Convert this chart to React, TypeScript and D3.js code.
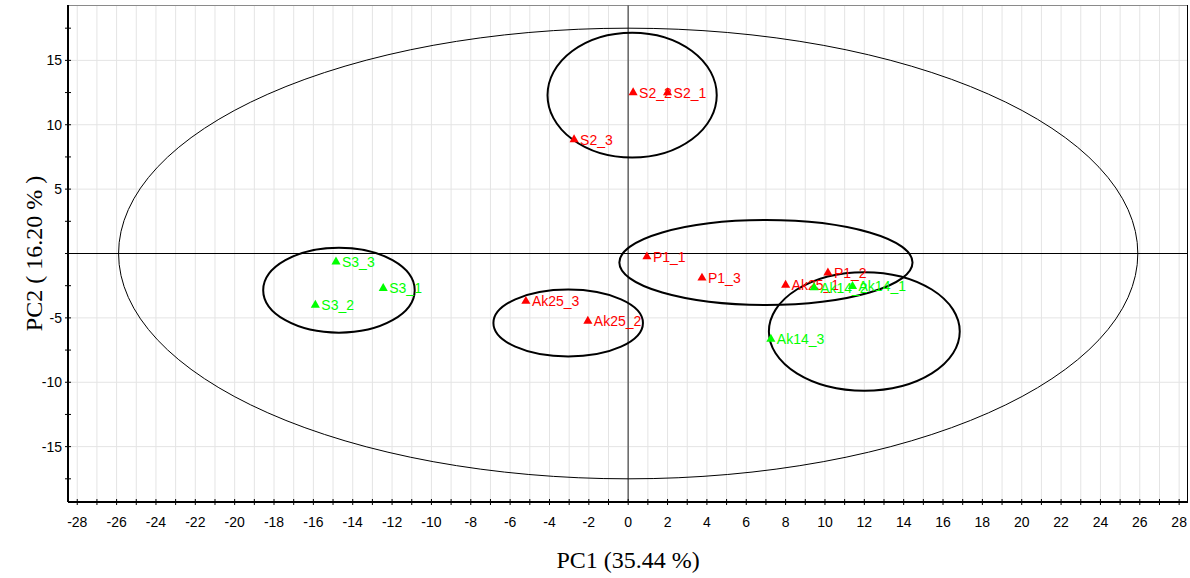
import React, { useEffect, useRef } from "react";
import * as d3 from "d3";

// sample scores (PC1, PC2)
const sampleNames = [
  "S2_1", "S2_2", "S2_3",
  "S3_1", "S3_2", "S3_3",
  "Ak25_1", "Ak25_2", "Ak25_3",
  "P1_1", "P1_2", "P1_3",
  "Ak14_1", "Ak14_2", "Ak14_3",
];
const pc1Values = [2.0, 0.25, -2.75, -12.45, -15.9, -14.85, 8.0, -2.05, -5.2, 0.95, 10.15, 3.75, 11.4, 9.45, 7.25];
const pc2Values = [12.5, 12.5, 8.85, -2.7, -4.0, -0.65, -2.45, -5.25, -3.7, -0.25, -1.5, -1.9, -2.55, -2.65, -6.65];
const sampleColors = [
  "#ff0000", "#ff0000", "#ff0000",
  "#00ff00", "#00ff00", "#00ff00",
  "#ff0000", "#ff0000", "#ff0000",
  "#ff0000", "#ff0000", "#ff0000",
  "#00ff00", "#00ff00", "#00ff00",
];

// group confidence ellipses
const ellipseNames = ["S2", "S3", "Ak25", "P1", "Ak14"];
const ellipseCx = [0.2, -14.7, -3.05, 7.0, 12.0];
const ellipseCy = [12.3, -2.85, -5.4, -0.7, -6.05];
const ellipseRx = [4.3, 3.85, 3.8, 7.45, 4.85];
const ellipseRy = [4.85, 3.3, 2.6, 3.3, 4.6];

// Hotelling T2 ellipse
const t2Rx = 25.9;
const t2Ry = 17.5;

const xTickLabels = d3.range(-28, 29, 2);
const xMinorTicks = d3.range(-28, 29, 1);
const yTickLabels = [-15, -10, -5, 0, 5, 10, 15];
const yMinorTicks = d3.range(-17.5, 17.6, 2.5);

const width = 1190;
const height = 578;

const App = () => {
  const ref = useRef<SVGSVGElement | null>(null);

  useEffect(() => {
    document.body.style.margin = "0";
    const svg = d3.select(ref.current);
    svg.selectAll("*").remove();

    const left = 68;
    const right = 1188;
    const top = 5;
    const bottom = 502;

    const x = d3.scaleLinear().domain([-28.47, 28.45]).range([left, right]);
    const y = d3.scaleLinear().domain([-19.3, 19.3]).range([bottom, top]);

    // grid
    svg
      .append("g")
      .selectAll("line")
      .data(xMinorTicks)
      .enter()
      .append("line")
      .attr("x1", (d) => x(d))
      .attr("x2", (d) => x(d))
      .attr("y1", top)
      .attr("y2", bottom)
      .attr("stroke", "#e4e4e4")
      .attr("stroke-width", 1);

    svg
      .append("g")
      .selectAll("line")
      .data(yTickLabels)
      .enter()
      .append("line")
      .attr("x1", left)
      .attr("x2", right)
      .attr("y1", (d) => y(d))
      .attr("y2", (d) => y(d))
      .attr("stroke", "#e4e4e4")
      .attr("stroke-width", 1);

    // frame
    svg
      .append("line")
      .attr("x1", left)
      .attr("x2", right)
      .attr("y1", top + 0.5)
      .attr("y2", top + 0.5)
      .attr("stroke", "#8a8a8a");
    svg
      .append("line")
      .attr("x1", right - 0.5)
      .attr("x2", right - 0.5)
      .attr("y1", top)
      .attr("y2", bottom)
      .attr("stroke", "#000");

    // zero lines
    svg
      .append("line")
      .attr("x1", x(0))
      .attr("x2", x(0))
      .attr("y1", top)
      .attr("y2", bottom)
      .attr("stroke", "#6e6e6e")
      .attr("stroke-width", 1.6);
    svg
      .append("line")
      .attr("x1", left)
      .attr("x2", right)
      .attr("y1", y(0))
      .attr("y2", y(0))
      .attr("stroke", "#000")
      .attr("stroke-width", 1);

    // T2 ellipse
    svg
      .append("ellipse")
      .attr("cx", x(0))
      .attr("cy", y(0))
      .attr("rx", x(t2Rx) - x(0))
      .attr("ry", y(0) - y(t2Ry))
      .attr("fill", "none")
      .attr("stroke", "#000")
      .attr("stroke-width", 1);

    // group ellipses
    svg
      .append("g")
      .selectAll("ellipse")
      .data(ellipseNames)
      .enter()
      .append("ellipse")
      .attr("cx", (d, i) => x(ellipseCx[i]))
      .attr("cy", (d, i) => y(ellipseCy[i]))
      .attr("rx", (d, i) => x(ellipseRx[i]) - x(0))
      .attr("ry", (d, i) => y(0) - y(ellipseRy[i]))
      .attr("fill", "none")
      .attr("stroke", "#000")
      .attr("stroke-width", 2);

    // axes
    const xAxisG = svg.append("g");
    xAxisG
      .append("line")
      .attr("x1", left)
      .attr("x2", right)
      .attr("y1", bottom)
      .attr("y2", bottom)
      .attr("stroke", "#000")
      .attr("stroke-width", 2);
    xAxisG
      .selectAll("line.tick")
      .data(xMinorTicks)
      .enter()
      .append("line")
      .attr("class", "tick")
      .attr("x1", (d) => x(d))
      .attr("x2", (d) => x(d))
      .attr("y1", bottom - 3)
      .attr("y2", bottom + 3)
      .attr("stroke", "#000");
    xAxisG
      .selectAll("text")
      .data(xTickLabels)
      .enter()
      .append("text")
      .attr("x", (d) => x(d))
      .attr("y", 527)
      .attr("text-anchor", "middle")
      .attr("font-family", "Liberation Sans, Arial, sans-serif")
      .attr("font-size", 14)
      .text((d) => d);

    const yAxisG = svg.append("g");
    yAxisG
      .append("line")
      .attr("x1", left)
      .attr("x2", left)
      .attr("y1", top)
      .attr("y2", bottom)
      .attr("stroke", "#000")
      .attr("stroke-width", 2);
    yAxisG
      .selectAll("line.tick")
      .data(yMinorTicks)
      .enter()
      .append("line")
      .attr("class", "tick")
      .attr("x1", left - 3)
      .attr("x2", left + 3)
      .attr("y1", (d) => y(d))
      .attr("y2", (d) => y(d))
      .attr("stroke", "#000");
    yAxisG
      .selectAll("text")
      .data(yTickLabels.filter((d) => d !== 0))
      .enter()
      .append("text")
      .attr("x", 62)
      .attr("y", (d) => y(d) + 5)
      .attr("text-anchor", "end")
      .attr("font-family", "Liberation Sans, Arial, sans-serif")
      .attr("font-size", 14)
      .text((d) => d);

    // axis titles
    svg
      .append("text")
      .attr("x", x(0))
      .attr("y", 568)
      .attr("text-anchor", "middle")
      .attr("font-family", "Liberation Serif, Times New Roman, serif")
      .attr("font-size", 24)
      .text("PC1 (35.44 %)");
    svg
      .append("text")
      .attr("transform", `translate(42, ${y(0)}) rotate(-90)`)
      .attr("text-anchor", "middle")
      .attr("font-family", "Liberation Serif, Times New Roman, serif")
      .attr("font-size", 24)
      .text("PC2 ( 16.20 % )");

    // points
    const tri = d3.symbol().type(d3.symbolTriangle).size(36);
    const pts = svg
      .append("g")
      .selectAll("g")
      .data(sampleNames)
      .enter()
      .append("g")
      .attr("transform", (d, i) => `translate(${x(pc1Values[i])}, ${y(pc2Values[i])})`);
    pts
      .append("path")
      .attr("d", tri)
      .attr("fill", (d, i) => sampleColors[i]);
    pts
      .append("text")
      .attr("x", 6)
      .attr("y", 5)
      .attr("font-family", "Liberation Sans, Arial, sans-serif")
      .attr("font-size", 14)
      .attr("fill", (d, i) => sampleColors[i])
      .text((d) => d);

    return () => {
      svg.selectAll("*").remove();
    };
  }, []);

  return (
    <svg
      ref={ref}
      width={width}
      height={height}
      style={{ display: "block", background: "#fff" }}
    ></svg>
  );
};

export default App;
